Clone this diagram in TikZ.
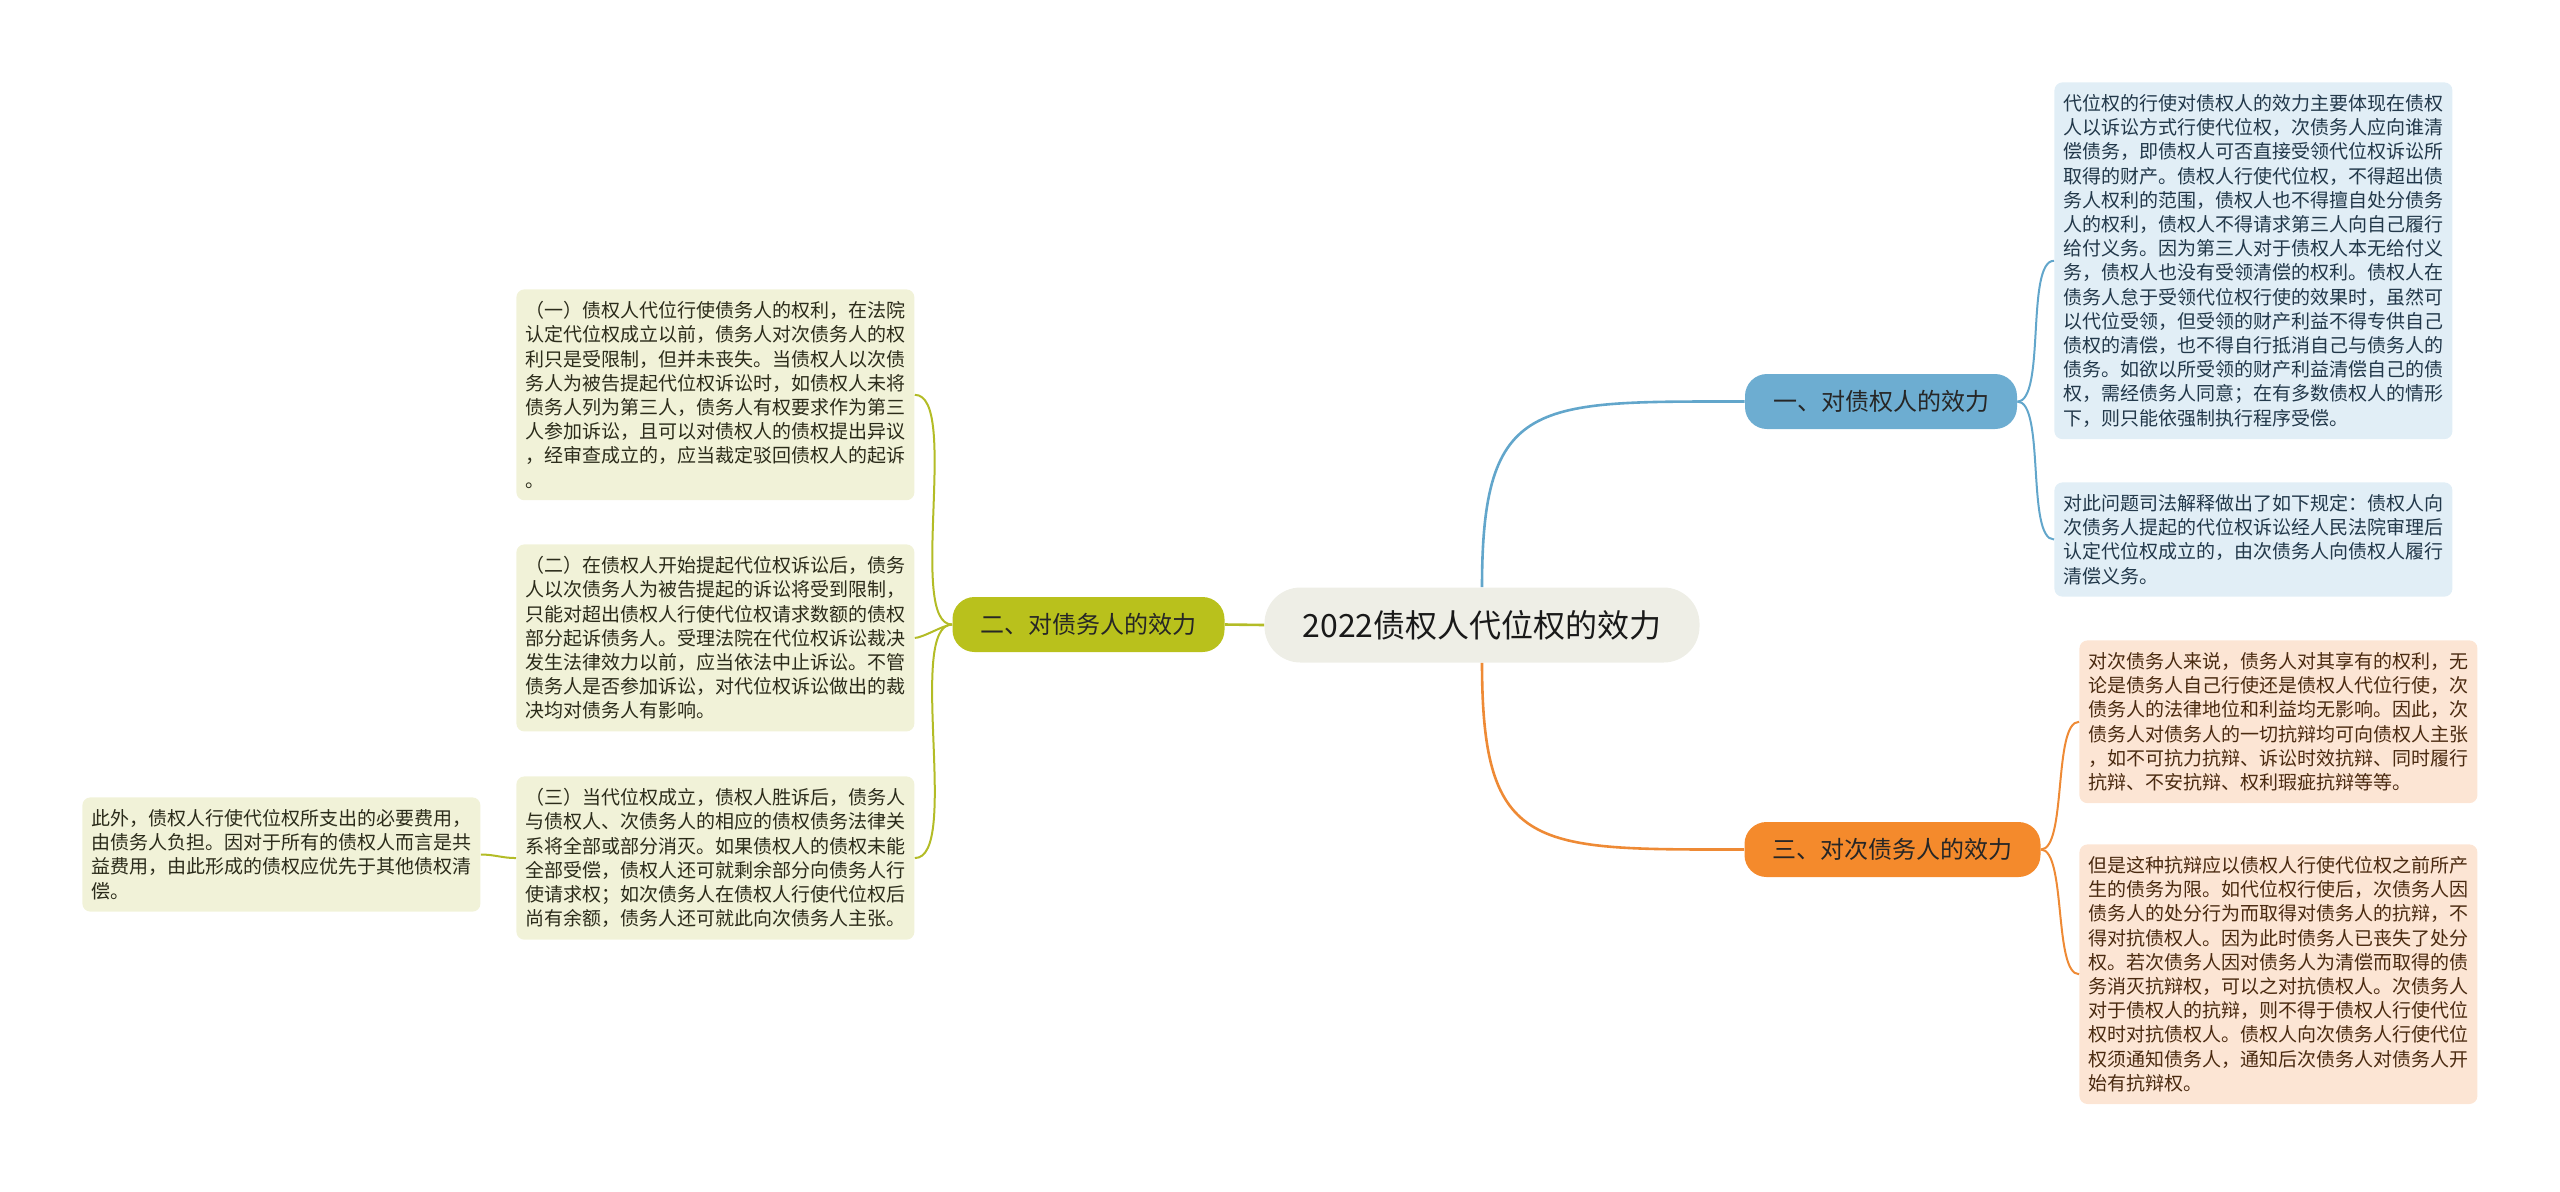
\documentclass[tikz,border=0pt]{standalone}
\usepackage{fontspec}
\setmainfont{Noto Sans CJK SC}
\usepackage{xcolor}
\usepackage{tikz}

\definecolor{rootfill}{HTML}{EEEEE6}
\definecolor{bluetopic}{HTML}{6DADD1}
\definecolor{blueline}{HTML}{62A6CB}
\definecolor{bluebox}{HTML}{E1EEF6}
\definecolor{bluetext}{HTML}{22384A}
\definecolor{greentopic}{HTML}{B9C11C}
\definecolor{greenline}{HTML}{B3BC26}
\definecolor{greenbox}{HTML}{F1F2D8}
\definecolor{greentext}{HTML}{2B2B1A}
\definecolor{orangetopic}{HTML}{F48A2C}
\definecolor{orangeline}{HTML}{EE8A35}
\definecolor{orangebox}{HTML}{FCE5D4}
\definecolor{orangetext}{HTML}{4A2A10}

\begin{document}
\begin{tikzpicture}[x=0.5pt, y=-0.5pt,
  root/.style={fill=rootfill, text=black!90, rounded corners=18pt, minimum height=37.5pt, inner xsep=19pt, font=\fontsize{16pt}{19pt}\selectfont},
  topic/.style={rounded corners=11pt, minimum height=27.5pt, inner xsep=14pt, text=black!85, font=\fontsize{12pt}{14pt}\selectfont},
  leaf/.style={anchor=north west, rounded corners=4pt, text width=190pt, align=left, inner xsep=4.5pt, inner ysep=6pt, font=\fontsize{9.5pt}{12.1pt}\selectfont},
  branch/.style={line width=1.3pt},
  kid/.style={line width=1pt}]
\useasboundingbox (0,0) rectangle (2560,1191);

% centre and main topics
\node[root] (root) at (1482,625) {2022债权人代位权的效力};
\node[topic, fill=bluetopic] (creditor) at (1881,401.5) {一、对债权人的效力};
\node[topic, fill=greentopic] (debtor) at (1088.5,624.5) {二、对债务人的效力};
\node[topic, fill=orangetopic] (subdebtor) at (1892.5,849.5) {三、对次债务人的效力};

% 一
\node[leaf, fill=bluebox, text=bluetext] (creditor1) at (2054,82) {代位权的行使对债权人的效力主要体现在债权\\人以诉讼方式行使代位权，次债务人应向谁清\\偿债务，即债权人可否直接受领代位权诉讼所\\取得的财产。债权人行使代位权，不得超出债\\务人权利的范围，债权人也不得擅自处分债务\\人的权利，债权人不得请求第三人向自己履行\\给付义务。因为第三人对于债权人本无给付义\\务，债权人也没有受领清偿的权利。债权人在\\债务人怠于受领代位权行使的效果时，虽然可\\以代位受领，但受领的财产利益不得专供自己\\债权的清偿，也不得自行抵消自己与债务人的\\债务。如欲以所受领的财产利益清偿自己的债\\权，需经债务人同意；在有多数债权人的情形\\下，则只能依强制执行程序受偿。};
\node[leaf, fill=bluebox, text=bluetext] (creditor2) at (2054,482) {对此问题司法解释做出了如下规定：债权人向\\次债务人提起的代位权诉讼经人民法院审理后\\认定代位权成立的，由次债务人向债权人履行\\清偿义务。};

% 二
\node[leaf, fill=greenbox, text=greentext] (debtor1) at (516,289) {（一）债权人代位行使债务人的权利，在法院\\认定代位权成立以前，债务人对次债务人的权\\利只是受限制，但并未丧失。当债权人以次债\\务人为被告提起代位权诉讼时，如债权人未将\\债务人列为第三人，债务人有权要求作为第三\\人参加诉讼，且可以对债权人的债权提出异议\\，经审查成立的，应当裁定驳回债权人的起诉\\。};
\node[leaf, fill=greenbox, text=greentext] (debtor2) at (516,544) {（二）在债权人开始提起代位权诉讼后，债务\\人以次债务人为被告提起的诉讼将受到限制，\\只能对超出债权人行使代位权请求数额的债权\\部分起诉债务人。受理法院在代位权诉讼裁决\\发生法律效力以前，应当依法中止诉讼。不管\\债务人是否参加诉讼，对代位权诉讼做出的裁\\决均对债务人有影响。};
\node[leaf, fill=greenbox, text=greentext] (debtor3) at (516,776) {（三）当代位权成立，债权人胜诉后，债务人\\与债权人、次债务人的相应的债权债务法律关\\系将全部或部分消灭。如果债权人的债权未能\\全部受偿，债权人还可就剩余部分向债务人行\\使请求权；如次债务人在债权人行使代位权后\\尚有余额，债务人还可就此向次债务人主张。};
\node[leaf, fill=greenbox, text=greentext] (costs) at (82,797) {此外，债权人行使代位权所支出的必要费用，\\由债务人负担。因对于所有的债权人而言是共\\益费用，由此形成的债权应优先于其他债权清\\偿。};

% 三
\node[leaf, fill=orangebox, text=orangetext] (subdebtor1) at (2079,640) {对次债务人来说，债务人对其享有的权利，无\\论是债务人自己行使还是债权人代位行使，次\\债务人的法律地位和利益均无影响。因此，次\\债务人对债务人的一切抗辩均可向债权人主张\\，如不可抗力抗辩、诉讼时效抗辩、同时履行\\抗辩、不安抗辩、权利瑕疵抗辩等等。};
\node[leaf, fill=orangebox, text=orangetext] (subdebtor2) at (2079,844) {但是这种抗辩应以债权人行使代位权之前所产\\生的债务为限。如代位权行使后，次债务人因\\债务人的处分行为而取得对债务人的抗辩，不\\得对抗债权人。因为此时债务人已丧失了处分\\权。若次债务人因对债务人为清偿而取得的债\\务消灭抗辩权，可以之对抗债权人。次债务人\\对于债权人的抗辩，则不得于债权人行使代位\\权时对抗债权人。债权人向次债务人行使代位\\权须通知债务人，通知后次债务人对债务人开\\始有抗辩权。};

% connectors
\draw[branch, blueline] (root.north) .. controls +(0,-190) and +(-210,0) .. (creditor.west);
\draw[branch, orangeline] (root.south) .. controls +(0,190) and +(-210,0) .. (subdebtor.west);
\draw[branch, greenline] (root.west) -- (debtor.east);
\draw[kid, blueline] (creditor.east) to[out=0,in=180,looseness=0.5] (creditor1.west);
\draw[kid, blueline] (creditor.east) to[out=0,in=180,looseness=0.5] (creditor2.west);
\draw[kid, orangeline] (subdebtor.east) to[out=0,in=180,looseness=0.5] (subdebtor1.west);
\draw[kid, orangeline] (subdebtor.east) to[out=0,in=180,looseness=0.5] (subdebtor2.west);
\draw[kid, greenline] (debtor.west) to[out=180,in=0,looseness=0.5] (debtor1.east);
\draw[kid, greenline] (debtor.west) to[out=180,in=0,looseness=0.5] (debtor2.east);
\draw[kid, greenline] (debtor.west) to[out=180,in=0,looseness=0.5] (debtor3.east);
\draw[kid, greenline] (debtor3.west) to[out=180,in=0] (costs.east);
\end{tikzpicture}
\end{document}
